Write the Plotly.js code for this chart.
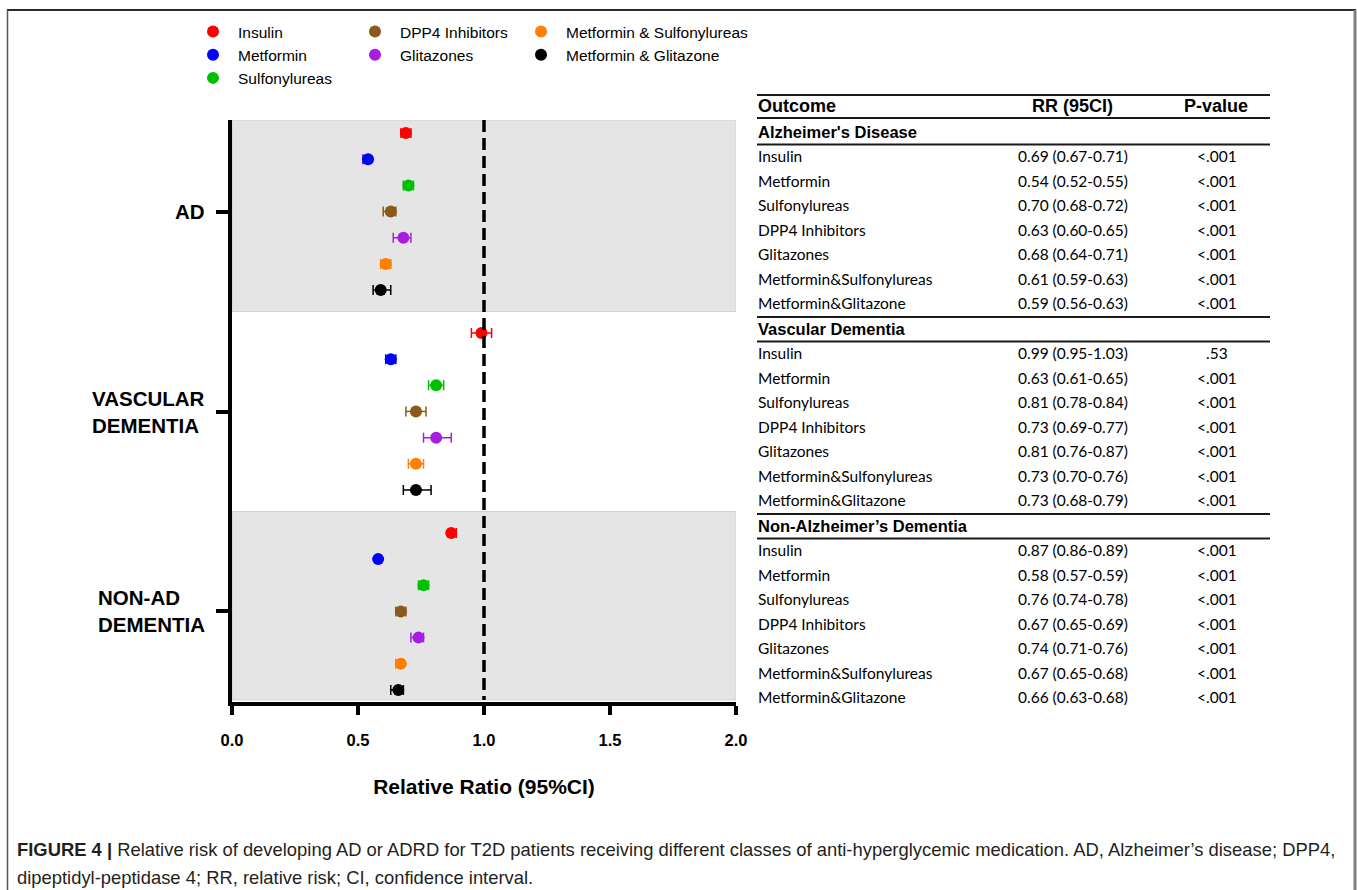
<!DOCTYPE html>
<html>
<head>
<meta charset="utf-8">
<script src="https://cdn.plot.ly/plotly-3.0.1.min.js"></script>
<style>
html,body{margin:0;padding:0;background:#fff;}
#chart{width:1357px;height:890px;}
</style>
</head>
<body>
<div id="chart"></div>
<script>
// ---------------- DATA ----------------
const outcomes = ["AD", "VASCULAR<br>DEMENTIA", "NON-AD<br>DEMENTIA"];
const outcomeTitles = ["Alzheimer's Disease", "Vascular Dementia", "Non-Alzheimer\u2019s Dementia"];
const drugs = ["Insulin", "Metformin", "Sulfonylureas", "DPP4 Inhibitors", "Glitazones",
               "Metformin & Sulfonylureas", "Metformin & Glitazone"];
const drugsTable = ["Insulin", "Metformin", "Sulfonylureas", "DPP4 Inhibitors", "Glitazones",
                    "Metformin&Sulfonylureas", "Metformin&Glitazone"];
const drugColors = ["#ff0000", "#0000ff", "#00c000", "#8b5a1b", "#a81ee0", "#ff8000", "#000000"];

// rows: outcome, columns: drug
const rr = [
  [0.69, 0.54, 0.70, 0.63, 0.68, 0.61, 0.59],
  [0.99, 0.63, 0.81, 0.73, 0.81, 0.73, 0.73],
  [0.87, 0.58, 0.76, 0.67, 0.74, 0.67, 0.66]
];
const lo = [
  [0.67, 0.52, 0.68, 0.60, 0.64, 0.59, 0.56],
  [0.95, 0.61, 0.78, 0.69, 0.76, 0.70, 0.68],
  [0.86, 0.57, 0.74, 0.65, 0.71, 0.65, 0.63]
];
const hi = [
  [0.71, 0.55, 0.72, 0.65, 0.71, 0.63, 0.63],
  [1.03, 0.65, 0.84, 0.77, 0.87, 0.76, 0.79],
  [0.89, 0.59, 0.78, 0.69, 0.76, 0.68, 0.68]
];
const pvals = [
  ["<.001", "<.001", "<.001", "<.001", "<.001", "<.001", "<.001"],
  [".53", "<.001", "<.001", "<.001", "<.001", "<.001", "<.001"],
  ["<.001", "<.001", "<.001", "<.001", "<.001", "<.001", "<.001"]
];
const xTicks = [0, 0.5, 1.0, 1.5, 2.0];
const refLine = 1.0;
const legendOf = ["legend", "legend", "legend", "legend2", "legend2", "legend3", "legend3"];

const captionLine1 = "<b>FIGURE 4 |</b> Relative risk of developing AD or ADRD for T2D patients receiving different classes of anti-hyperglycemic medication. AD, Alzheimer\u2019s disease; DPP4,";
const captionLine2 = "dipeptidyl-peptidase 4; RR, relative risk; CI, confidence interval.";

// ---------------- LAYOUT HELPERS ----------------
const W = 1357, H = 890;
const L = 232, R = 736, T = 120, B = 702;
const px = x => (x - L) / (R - L);
const py = y => (B - y) / (B - T);
const PITCH = 7.64;          // rows between outcome groups
const rowY = (g, i) => g * PITCH + i;
const ARIAL = "Liberation Sans, Arial, sans-serif";
const BODY = "Lato, Carlito, sans-serif";

// ---------------- TRACES ----------------
const traces = drugs.map((d, j) => ({
  type: "scatter",
  mode: "markers",
  name: d,
  legend: legendOf[j],
  x: outcomes.map((_, g) => rr[g][j]),
  y: outcomes.map((_, g) => rowY(g, j)),
  marker: {color: drugColors[j], size: 12, symbol: "circle"},
  error_x: {
    type: "data", symmetric: false,
    array: outcomes.map((_, g) => +(hi[g][j] - rr[g][j]).toFixed(3)),
    arrayminus: outcomes.map((_, g) => +(rr[g][j] - lo[g][j]).toFixed(3)),
    color: drugColors[j], thickness: 1.5, width: 5
  },
  cliponaxis: false,
  hoverinfo: "x+name"
}));

// ---------------- SHAPES ----------------
const shapes = [];
// gray bands (groups 0 and 2)
const bandEdges = [
  [-0.5, rowY(0, 6) + (PITCH - 6) / 2],
  [rowY(2, 0) - (PITCH - 6) / 2, 21.66]
];
bandEdges.forEach(([a, b]) => shapes.push({
  type: "rect", xref: "x", yref: "y", x0: 0, x1: 2, y0: a, y1: b,
  fillcolor: "#e5e5e5", line: {color: "#d2d2d2", width: 1}, layer: "below"
}));
// reference dashed line
shapes.push({type: "line", xref: "x", yref: "y", x0: refLine, x1: refLine, y0: -0.5, y1: 21.66,
  line: {color: "#000", width: 3.5, dash: "12px,6px"}});

// figure frame
shapes.push({type: "line", xref: "paper", yref: "paper", x0: px(7), x1: px(1356), y0: py(10), y1: py(10),
  line: {color: "#2a2a2a", width: 2}});
shapes.push({type: "line", xref: "paper", yref: "paper", x0: px(7.5), x1: px(7.5), y0: py(10), y1: py(892),
  line: {color: "#555", width: 1.5}});
shapes.push({type: "line", xref: "paper", yref: "paper", x0: px(1355), x1: px(1355), y0: py(10), y1: py(892),
  line: {color: "#808080", width: 3}});

// table rules
const TX0 = 757, TX1 = 1270;
const hline = (y, w) => shapes.push({type: "line", xref: "paper", yref: "paper",
  x0: px(TX0), x1: px(TX1), y0: py(y), y1: py(y), line: {color: "#1a1a1a", width: w}});
hline(95, 2);
hline(118, 2);
const SEC0 = 132, SECP = 197, ROWP = 24.55;
outcomeTitles.forEach((_, g) => {
  const s = SEC0 + g * SECP;
  if (g > 0) hline(s - 12, 2);
  hline(s + 12.5, 2);
});

// ---------------- ANNOTATIONS ----------------
const ann = [];
const txt = (x, y, text, size, opts) => ann.push(Object.assign({
  xref: "paper", yref: "paper", x: px(x), y: py(y), text: text, showarrow: false,
  xanchor: "left", yanchor: "middle", font: {family: ARIAL, size: size, color: "#000"}
}, opts || {}));

// y-axis group labels
outcomes.forEach((o, g) => ann.push({
  xref: "paper", yref: "y", x: px(207), y: rowY(g, 3), text: "<b>" + o + "</b>",
  showarrow: false, xanchor: "right", yanchor: "middle", align: "left",
  font: {family: ARIAL, size: 20.5, color: "#000"}
}));

// table header
txt(756, 106, "<b>Outcome</b>", 18);
txt(1072, 106, "<b>RR (95CI)</b>", 18, {xanchor: "center"});
txt(1216, 106, "<b>P-value</b>", 18, {xanchor: "center"});
outcomeTitles.forEach((t, g) => {
  const s = SEC0 + g * SECP;
  txt(756, s, "<b>" + t + "</b>", 16.5);
  drugsTable.forEach((d, j) => {
    const y = s + 24 + j * ROWP;
    const f = {family: BODY, size: 15.5, color: "#000"};
    txt(756, y, d, 15.5, {font: f});
    txt(1073, y, rr[g][j].toFixed(2) + " (" + lo[g][j].toFixed(2) + "-" + hi[g][j].toFixed(2) + ")", 15.5,
        {font: f, xanchor: "center"});
    txt(1217, y, pvals[g][j], 15.5, {font: f, xanchor: "center"});
  });
});

// caption
txt(15, 849, captionLine1, 18.4, {font: {family: ARIAL, size: 18.4, color: "#231f20"}});
txt(15, 877, captionLine2, 18.4, {font: {family: ARIAL, size: 18.4, color: "#231f20"}});

// ---------------- LAYOUT ----------------
const legendBase = {
  xanchor: "left", yanchor: "top", bgcolor: "rgba(0,0,0,0)", borderwidth: 0, itemwidth: 40,
  font: {family: ARIAL, size: 15.5, color: "#000"}, orientation: "v", itemclick: false, itemdoubleclick: false
};
const layout = {
  width: W, height: H,
  margin: {l: L, r: W - R, t: T, b: H - B, pad: 0},
  paper_bgcolor: "#fff", plot_bgcolor: "rgba(0,0,0,0)",
  showlegend: true,
  legend: Object.assign({}, legendBase, {x: px(188), y: py(15)}),
  legend2: Object.assign({}, legendBase, {x: px(350), y: py(15)}),
  legend3: Object.assign({}, legendBase, {x: px(516), y: py(15)}),
  xaxis: {
    range: [0, 2], tickvals: xTicks, tickformat: ".1f",
    showgrid: false, zeroline: false, showline: true, linecolor: "#000", linewidth: 4,
    ticks: "outside", ticklen: 9, tickwidth: 4, tickcolor: "#000",
    ticklabelstandoff: 11,
    tickfont: {family: ARIAL, size: 16.5, color: "#000", weight: "bold"},
    title: {text: "<b>Relative Ratio (95%CI)</b>", standoff: 33,
            font: {family: ARIAL, size: 21, color: "#000"}},
    fixedrange: true
  },
  yaxis: {
    range: [21.74, -0.5], tickvals: outcomes.map((_, g) => rowY(g, 3)),
    showticklabels: false, showgrid: false, zeroline: false,
    showline: true, linecolor: "#000", linewidth: 4,
    ticks: "outside", ticklen: 12, tickwidth: 4, tickcolor: "#000", fixedrange: true
  },
  shapes: shapes,
  annotations: ann
};

Plotly.newPlot("chart", traces, layout, {displayModeBar: false, staticPlot: true});
</script>
</body>
</html>
